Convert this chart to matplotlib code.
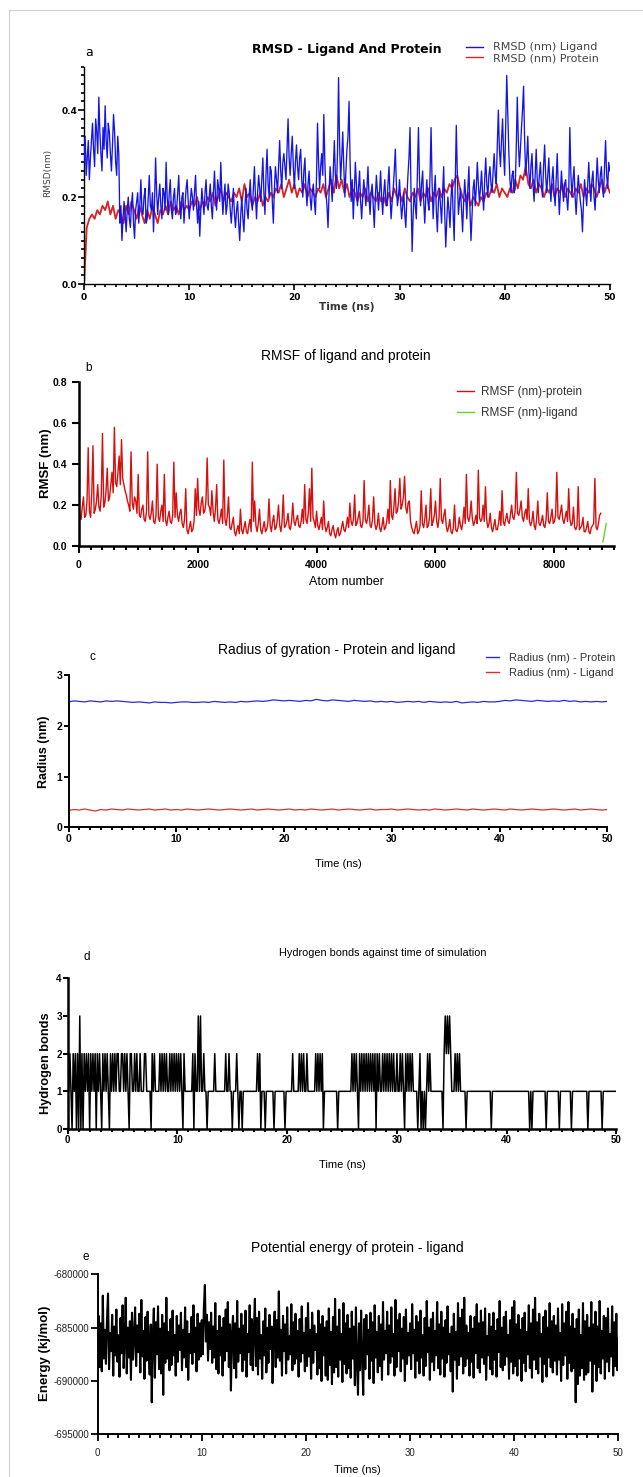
import numpy as np
import matplotlib
matplotlib.use("Agg")
import matplotlib.pyplot as plt
from matplotlib.lines import Line2D
from matplotlib.ticker import MultipleLocator, FixedLocator, FuncFormatter

plt.rcParams['axes.unicode_minus'] = False

# ---------------- data ----------------
# (a) RMSD, ligand sampled every 0.1 ns, protein every 0.25 ns
rmsd_ligand = [
    0.28, 0.34, 0.25, 0.29, 0.33, 0.24, 0.29, 0.33, 0.37, 0.31, 0.27, 0.38, 0.35, 0.30, 0.43, 0.35, 0.30, 0.26, 0.36, 0.31,
    0.41, 0.33, 0.29, 0.37, 0.35, 0.30, 0.26, 0.32, 0.39, 0.35, 0.28, 0.25, 0.34, 0.30, 0.14, 0.18, 0.10, 0.15, 0.19, 0.16,
    0.12, 0.17, 0.20, 0.15, 0.13, 0.18, 0.21, 0.14, 0.105, 0.17, 0.19, 0.21, 0.14, 0.18, 0.24, 0.17, 0.16, 0.20, 0.22, 0.14,
    0.15, 0.20, 0.25, 0.18, 0.17, 0.21, 0.12, 0.19, 0.29, 0.21, 0.16, 0.20, 0.23, 0.18, 0.15, 0.22, 0.21, 0.17, 0.28, 0.20,
    0.16, 0.21, 0.24, 0.17, 0.15, 0.20, 0.22, 0.16, 0.17, 0.21, 0.25, 0.18, 0.15, 0.20, 0.21, 0.14, 0.18, 0.22, 0.24, 0.19,
    0.15, 0.19, 0.22, 0.20, 0.17, 0.21, 0.25, 0.18, 0.14, 0.19, 0.11, 0.17, 0.22, 0.19, 0.16, 0.21, 0.24, 0.18, 0.17, 0.20,
    0.23, 0.18, 0.15, 0.21, 0.26, 0.20, 0.17, 0.24, 0.22, 0.19, 0.28, 0.21, 0.16, 0.20, 0.23, 0.16, 0.18, 0.23, 0.21, 0.17,
    0.14, 0.18, 0.22, 0.16, 0.13, 0.17, 0.19, 0.14, 0.10, 0.16, 0.20, 0.15, 0.12, 0.18, 0.22, 0.17, 0.15, 0.20, 0.24, 0.19,
    0.17, 0.22, 0.27, 0.20, 0.15, 0.21, 0.25, 0.22, 0.19, 0.24, 0.29, 0.21, 0.16, 0.25, 0.31, 0.23, 0.20, 0.27, 0.26, 0.19,
    0.14, 0.22, 0.27, 0.24, 0.21, 0.27, 0.33, 0.26, 0.22, 0.28, 0.30, 0.27, 0.24, 0.31, 0.38, 0.29, 0.25, 0.30, 0.34, 0.27,
    0.22, 0.28, 0.32, 0.27, 0.24, 0.29, 0.31, 0.24, 0.20, 0.26, 0.29, 0.22, 0.18, 0.23, 0.26, 0.20, 0.17, 0.21, 0.23, 0.19,
    0.16, 0.24, 0.37, 0.28, 0.22, 0.27, 0.30, 0.25, 0.39, 0.28, 0.21, 0.18, 0.13, 0.21, 0.27, 0.23, 0.19, 0.26, 0.33, 0.25,
    0.22, 0.30, 0.475, 0.32, 0.24, 0.29, 0.35, 0.27, 0.20, 0.26, 0.31, 0.34, 0.42, 0.28, 0.19, 0.24, 0.15, 0.21, 0.28, 0.23,
    0.18, 0.22, 0.26, 0.19, 0.15, 0.20, 0.24, 0.21, 0.18, 0.22, 0.27, 0.20, 0.16, 0.21, 0.23, 0.18, 0.13, 0.20, 0.25, 0.21,
    0.17, 0.21, 0.26, 0.20, 0.16, 0.21, 0.24, 0.19, 0.18, 0.23, 0.27, 0.20, 0.15, 0.19, 0.22, 0.26, 0.31, 0.23, 0.18, 0.20,
    0.24, 0.19, 0.15, 0.18, 0.21, 0.16, 0.13, 0.20, 0.25, 0.29, 0.36, 0.20, 0.075, 0.16, 0.22, 0.18, 0.15, 0.25, 0.36, 0.24,
    0.18, 0.23, 0.26, 0.19, 0.14, 0.20, 0.24, 0.19, 0.17, 0.25, 0.36, 0.23, 0.15, 0.21, 0.25, 0.17, 0.12, 0.19, 0.22, 0.18,
    0.14, 0.21, 0.27, 0.16, 0.085, 0.15, 0.20, 0.17, 0.13, 0.20, 0.24, 0.16, 0.10, 0.23, 0.365, 0.25, 0.16, 0.19, 0.22, 0.17,
    0.12, 0.19, 0.24, 0.20, 0.15, 0.22, 0.27, 0.17, 0.10, 0.16, 0.22, 0.24, 0.18, 0.22, 0.28, 0.23, 0.19, 0.22, 0.26, 0.21,
    0.17, 0.24, 0.29, 0.23, 0.20, 0.25, 0.27, 0.23, 0.21, 0.26, 0.30, 0.25, 0.23, 0.32, 0.40, 0.31, 0.27, 0.33, 0.38, 0.30,
    0.25, 0.36, 0.48, 0.39, 0.30, 0.24, 0.21, 0.25, 0.26, 0.21, 0.22, 0.31, 0.43, 0.33, 0.27, 0.31, 0.36, 0.40, 0.455, 0.33,
    0.25, 0.29, 0.34, 0.26, 0.22, 0.27, 0.30, 0.23, 0.19, 0.25, 0.31, 0.24, 0.21, 0.25, 0.28, 0.23, 0.20, 0.27, 0.32, 0.25,
    0.21, 0.25, 0.29, 0.23, 0.19, 0.24, 0.27, 0.21, 0.18, 0.24, 0.30, 0.22, 0.16, 0.21, 0.26, 0.22, 0.19, 0.23, 0.24, 0.20,
    0.17, 0.22, 0.36, 0.25, 0.20, 0.24, 0.27, 0.20, 0.16, 0.21, 0.25, 0.22, 0.19, 0.17, 0.12, 0.19, 0.24, 0.21, 0.18, 0.23,
    0.28, 0.22, 0.19, 0.24, 0.26, 0.20, 0.17, 0.23, 0.29, 0.24, 0.21, 0.25, 0.27, 0.22, 0.20, 0.27, 0.33, 0.25, 0.22, 0.28,
    0.26]

rmsd_protein = [
    0.00, 0.13, 0.15, 0.16, 0.15, 0.17, 0.16, 0.18,
    0.17, 0.19, 0.16, 0.18, 0.15, 0.17, 0.16, 0.14,
    0.18, 0.16, 0.19, 0.17, 0.15, 0.18, 0.16, 0.14,
    0.17, 0.15, 0.18, 0.16, 0.14, 0.17, 0.16, 0.18,
    0.16, 0.19, 0.17, 0.18, 0.16, 0.19, 0.17, 0.18,
    0.17, 0.19, 0.18, 0.20, 0.17, 0.19, 0.18, 0.20,
    0.19, 0.21, 0.18, 0.20, 0.22, 0.19, 0.21, 0.20,
    0.19, 0.21, 0.20, 0.22, 0.19, 0.23, 0.20, 0.21,
    0.18, 0.20, 0.19, 0.21, 0.18, 0.20, 0.19, 0.21,
    0.20, 0.22, 0.21, 0.23, 0.20, 0.22, 0.24, 0.21,
    0.23, 0.20, 0.22, 0.21, 0.23, 0.20, 0.22, 0.21,
    0.20, 0.22, 0.21, 0.23, 0.20, 0.22, 0.24, 0.21,
    0.25, 0.22, 0.24, 0.21, 0.23, 0.20, 0.22, 0.21,
    0.19, 0.21, 0.20, 0.22, 0.19, 0.21, 0.20, 0.19,
    0.21, 0.19, 0.20, 0.18, 0.21, 0.19, 0.22, 0.20,
    0.21, 0.19, 0.22, 0.20, 0.19, 0.21, 0.20, 0.22,
    0.19, 0.21, 0.20, 0.22, 0.19, 0.21, 0.20, 0.22,
    0.20, 0.22, 0.21, 0.23, 0.22, 0.24, 0.25, 0.22,
    0.20, 0.19, 0.21, 0.18, 0.20, 0.19, 0.18, 0.20,
    0.19, 0.21, 0.20, 0.22, 0.21, 0.23, 0.20, 0.22,
    0.21, 0.20, 0.22, 0.21, 0.24, 0.22, 0.25, 0.24,
    0.27, 0.23, 0.22, 0.24, 0.21, 0.23, 0.22, 0.20,
    0.22, 0.21, 0.23, 0.20, 0.22, 0.21, 0.23, 0.20,
    0.22, 0.21, 0.20, 0.22, 0.21, 0.23, 0.20, 0.22,
    0.21, 0.23, 0.22, 0.20, 0.22, 0.24, 0.21, 0.23,
    0.21]

# (b) RMSF, protein every 20 atoms starting at atom 0
rmsf_protein = [
    0.21, 0.15, 0.13, 0.19, 0.24, 0.14, 0.15, 0.22, 0.48, 0.17, 0.14, 0.26, 0.49, 0.16, 0.18, 0.22, 0.30, 0.19, 0.17, 0.25,
    0.55, 0.19, 0.21, 0.27, 0.38, 0.22, 0.24, 0.30, 0.36, 0.26, 0.58, 0.31, 0.29, 0.36, 0.44, 0.30, 0.52, 0.33, 0.30, 0.27,
    0.25, 0.22, 0.20, 0.17, 0.46, 0.21, 0.18, 0.24, 0.22, 0.16, 0.35, 0.15, 0.14, 0.18, 0.20, 0.13, 0.12, 0.17, 0.46, 0.15,
    0.13, 0.16, 0.22, 0.12, 0.11, 0.15, 0.40, 0.14, 0.12, 0.17, 0.20, 0.12, 0.35, 0.13, 0.10, 0.14, 0.17, 0.12, 0.11, 0.15,
    0.41, 0.14, 0.26, 0.15, 0.12, 0.16, 0.18, 0.11, 0.09, 0.13, 0.28, 0.08, 0.06, 0.09, 0.12, 0.07, 0.08, 0.12, 0.28, 0.15,
    0.33, 0.18, 0.15, 0.21, 0.24, 0.16, 0.17, 0.22, 0.43, 0.20, 0.19, 0.15, 0.27, 0.17, 0.12, 0.18, 0.30, 0.13, 0.11, 0.14,
    0.18, 0.11, 0.42, 0.13, 0.10, 0.15, 0.24, 0.09, 0.08, 0.11, 0.14, 0.07, 0.05, 0.08, 0.10, 0.06, 0.18, 0.08, 0.06, 0.09,
    0.12, 0.07, 0.06, 0.10, 0.13, 0.07, 0.41, 0.12, 0.22, 0.10, 0.07, 0.11, 0.18, 0.08, 0.06, 0.09, 0.12, 0.07, 0.08, 0.11,
    0.23, 0.10, 0.07, 0.12, 0.15, 0.08, 0.09, 0.13, 0.20, 0.10, 0.07, 0.12, 0.25, 0.09, 0.10, 0.12, 0.16, 0.09, 0.08, 0.12,
    0.21, 0.12, 0.10, 0.13, 0.15, 0.10, 0.09, 0.12, 0.18, 0.11, 0.30, 0.13, 0.11, 0.16, 0.28, 0.12, 0.38, 0.14, 0.12, 0.09,
    0.17, 0.10, 0.08, 0.11, 0.14, 0.08, 0.22, 0.10, 0.07, 0.09, 0.12, 0.06, 0.05, 0.08, 0.10, 0.06, 0.04, 0.07, 0.09, 0.05,
    0.06, 0.09, 0.12, 0.08, 0.07, 0.10, 0.14, 0.09, 0.21, 0.12, 0.10, 0.13, 0.25, 0.10, 0.11, 0.14, 0.17, 0.10, 0.09, 0.12,
    0.32, 0.13, 0.11, 0.14, 0.20, 0.10, 0.09, 0.13, 0.24, 0.11, 0.08, 0.10, 0.16, 0.09, 0.07, 0.10, 0.14, 0.08, 0.09, 0.12,
    0.18, 0.11, 0.32, 0.15, 0.13, 0.19, 0.28, 0.16, 0.17, 0.22, 0.33, 0.18, 0.20, 0.24, 0.34, 0.19, 0.16, 0.21, 0.22, 0.12,
    0.09, 0.07, 0.06, 0.09, 0.12, 0.06, 0.07, 0.10, 0.27, 0.11, 0.09, 0.13, 0.20, 0.09, 0.10, 0.14, 0.28, 0.10, 0.12, 0.15,
    0.22, 0.12, 0.09, 0.14, 0.33, 0.13, 0.11, 0.15, 0.18, 0.10, 0.07, 0.09, 0.13, 0.07, 0.06, 0.09, 0.20, 0.08, 0.07, 0.09,
    0.14, 0.10, 0.08, 0.12, 0.19, 0.11, 0.35, 0.14, 0.12, 0.15, 0.22, 0.13, 0.10, 0.12, 0.15, 0.11, 0.37, 0.14, 0.12, 0.13,
    0.20, 0.12, 0.29, 0.13, 0.09, 0.11, 0.16, 0.09, 0.07, 0.10, 0.13, 0.08, 0.08, 0.11, 0.17, 0.10, 0.27, 0.12, 0.10, 0.13,
    0.16, 0.12, 0.11, 0.15, 0.20, 0.14, 0.13, 0.17, 0.36, 0.16, 0.15, 0.18, 0.22, 0.14, 0.12, 0.16, 0.18, 0.13, 0.28, 0.12,
    0.10, 0.12, 0.17, 0.10, 0.08, 0.13, 0.22, 0.11, 0.10, 0.12, 0.15, 0.10, 0.09, 0.13, 0.26, 0.12, 0.11, 0.14, 0.18, 0.11,
    0.12, 0.15, 0.36, 0.14, 0.13, 0.16, 0.20, 0.13, 0.11, 0.14, 0.17, 0.12, 0.28, 0.13, 0.10, 0.11, 0.19, 0.09, 0.08, 0.10,
    0.29, 0.08, 0.09, 0.10, 0.14, 0.07, 0.07, 0.09, 0.12, 0.07, 0.06, 0.09, 0.10, 0.11, 0.33, 0.09, 0.08, 0.11, 0.15, 0.16]
rmsf_atom_step = 20
rmsf_ligand_atoms = [8815, 8830, 8845, 8860, 8870]
rmsf_ligand = [0.02, 0.04, 0.07, 0.09, 0.11]

# (c) Radius of gyration, every 0.5 ns
rg_protein = [
    2.47, 2.49, 2.48, 2.47, 2.49, 2.48, 2.47, 2.49, 2.48, 2.49,
    2.48, 2.47, 2.46, 2.47, 2.46, 2.45, 2.47, 2.46, 2.46, 2.45,
    2.46, 2.47, 2.47, 2.46, 2.46, 2.47, 2.46, 2.48, 2.47, 2.46,
    2.47, 2.46, 2.48, 2.47, 2.48, 2.49, 2.48, 2.49, 2.51, 2.50,
    2.49, 2.50, 2.49, 2.48, 2.50, 2.49, 2.52, 2.50, 2.49, 2.51,
    2.50, 2.49, 2.48, 2.50, 2.49, 2.48, 2.49, 2.47, 2.48, 2.47,
    2.48, 2.46, 2.47, 2.48, 2.47, 2.48, 2.46, 2.48, 2.47, 2.46,
    2.47, 2.46, 2.48, 2.45, 2.46, 2.47, 2.46, 2.48, 2.47, 2.47,
    2.48, 2.50, 2.49, 2.51, 2.50, 2.49, 2.48, 2.50, 2.49, 2.48,
    2.49, 2.48, 2.50, 2.48, 2.49, 2.47, 2.48, 2.47, 2.48, 2.47,
    2.48]
rg_ligand = [
    0.33, 0.35, 0.34, 0.36, 0.34, 0.32, 0.35, 0.34, 0.36, 0.35,
    0.34, 0.36, 0.35, 0.34, 0.35, 0.36, 0.34, 0.35, 0.36, 0.34,
    0.35, 0.34, 0.36, 0.35, 0.34, 0.35, 0.36, 0.35, 0.34, 0.35,
    0.36, 0.35, 0.34, 0.35, 0.36, 0.34, 0.35, 0.36, 0.35, 0.34,
    0.35, 0.36, 0.34, 0.35, 0.34, 0.36, 0.35, 0.34, 0.35, 0.36,
    0.34, 0.35, 0.36, 0.35, 0.34, 0.35, 0.36, 0.34, 0.35, 0.35,
    0.36, 0.34, 0.35, 0.36, 0.35, 0.34, 0.35, 0.34, 0.36, 0.35,
    0.34, 0.35, 0.36, 0.35, 0.34, 0.36, 0.35, 0.34, 0.35, 0.36,
    0.35, 0.34, 0.36, 0.35, 0.34, 0.35, 0.36, 0.35, 0.34, 0.35,
    0.36, 0.35, 0.34, 0.35, 0.36, 0.34, 0.35, 0.36, 0.35, 0.34,
    0.35]

# (d) Hydrogen bonds, every 0.1 ns
hbonds = [
    2, 1, 2, 1, 0, 2, 1, 2, 0, 2, 0, 3, 0, 2, 0, 2, 1, 2, 1, 2,
    0, 2, 1, 2, 1, 2, 0, 2, 1, 2, 1, 0, 2, 1, 2, 1, 2, 1, 0, 2,
    1, 2, 1, 2, 1, 2, 2, 1, 1, 2, 2, 1, 2, 1, 2, 1, 0, 2, 2, 1,
    1, 2, 1, 2, 1, 1, 2, 1, 1, 1, 2, 2, 1, 1, 1, 1, 0, 2, 1, 2,
    1, 1, 1, 1, 2, 1, 2, 1, 2, 1, 2, 1, 1, 2, 1, 2, 1, 2, 1, 2,
    1, 2, 1, 2, 1, 0, 2, 1, 1, 1, 1, 1, 1, 1, 2, 0, 2, 1, 1, 3,
    1, 3, 1, 1, 2, 1, 1, 0, 1, 1, 1, 1, 1, 1, 2, 1, 1, 1, 1, 1,
    1, 1, 1, 1, 2, 1, 1, 2, 1, 1, 0, 1, 1, 1, 2, 1, 0, 1, 1, 0,
    1, 1, 1, 1, 1, 1, 1, 1, 1, 1, 1, 1, 1, 2, 1, 2, 0, 1, 1, 1,
    0, 1, 1, 1, 1, 1, 1, 1, 0, 1, 1, 1, 1, 1, 1, 1, 1, 1, 0, 1,
    1, 1, 1, 1, 1, 2, 1, 1, 1, 1, 1, 2, 1, 2, 1, 2, 1, 1, 2, 1,
    1, 1, 1, 1, 1, 1, 2, 1, 2, 1, 2, 1, 2, 0, 1, 1, 1, 1, 1, 1,
    1, 1, 1, 1, 1, 1, 0, 1, 1, 1, 1, 1, 1, 1, 1, 1, 1, 1, 1, 2,
    1, 2, 1, 2, 1, 0, 2, 1, 2, 1, 2, 1, 2, 1, 2, 1, 2, 1, 2, 1,
    2, 0, 2, 1, 2, 1, 1, 2, 1, 2, 1, 2, 1, 2, 1, 2, 1, 2, 1, 1,
    2, 1, 1, 2, 1, 2, 1, 0, 2, 1, 2, 1, 2, 1, 2, 1, 1, 1, 1, 0,
    1, 2, 0, 1, 0, 1, 0, 1, 2, 1, 2, 1, 1, 1, 1, 1, 1, 1, 1, 1,
    1, 1, 0, 2, 3, 2, 3, 2, 3, 2, 1, 1, 1, 2, 1, 2, 1, 2, 1, 1,
    1, 1, 1, 0, 1, 1, 1, 1, 1, 1, 1, 1, 1, 1, 1, 1, 1, 1, 1, 1,
    1, 1, 1, 1, 1, 1, 0, 1, 1, 1, 1, 1, 1, 1, 1, 1, 1, 1, 1, 1,
    1, 1, 1, 1, 1, 1, 1, 1, 1, 1, 1, 1, 1, 1, 1, 1, 1, 1, 1, 1,
    1, 0, 1, 0, 1, 1, 1, 1, 1, 1, 1, 1, 1, 1, 1, 1, 0, 1, 1, 1,
    1, 1, 1, 1, 1, 1, 1, 1, 0, 1, 1, 1, 1, 1, 1, 1, 1, 1, 1, 0,
    1, 1, 1, 1, 1, 1, 1, 1, 1, 1, 1, 1, 1, 1, 0, 1, 1, 1, 1, 1,
    1, 1, 1, 1, 1, 1, 1, 0, 1, 1, 1, 1, 1, 1, 1, 1, 1, 1, 1, 1,
    1]

# (e) Potential energy (kJ/mol), every 0.1 ns
energy = [
    -686200, -683900, -688700, -684600, -689100, -682000, -687900, -685200, -688400, -684300,
    -681800, -688900, -685500, -687200, -683800, -689500, -684900, -687600, -683300, -688200,
    -685700, -689600, -684100, -687400, -682900, -688800, -686100, -682200, -689300, -685000,
    -687800, -684400, -689900, -683600, -688000, -685900, -683100, -688600, -684800, -687300,
    -683700, -689200, -682400, -687700, -685300, -689800, -684000, -688100, -683500, -687000,
    -689400, -684700, -692000, -685800, -683200, -689700, -684500, -687500, -683000, -688900,
    -685100, -689300, -683800, -691300, -684600, -688300, -682200, -687900, -685400, -689000,
    -684200, -688500, -683400, -687600, -685700, -689500, -683900, -688200, -684800, -687100,
    -683600, -689000, -685200, -687800, -683100, -688700, -684400, -689900, -685600, -687400,
    -684000, -688400, -682900, -687300, -685000, -689100, -683700, -688000, -684600, -687700,
    -684300, -687500, -683200, -681000, -686300, -683800, -688100, -684500, -687000, -683600,
    -688300, -684900, -687800, -682700, -688900, -685300, -689300, -683900, -687600, -685000,
    -689500, -684100, -688100, -683300, -687200, -682600, -688700, -684700, -690900, -685500,
    -683900, -688800, -684600, -689700, -682500, -688200, -685100, -687400, -683700, -689100,
    -684800, -688000, -683400, -689600, -685600, -687300, -682900, -688500, -684200, -689000,
    -685300, -682300, -688600, -684100, -689400, -683500, -687900, -685700, -689800, -684400,
    -687600, -683200, -689200, -685000, -688300, -683800, -687000, -684900, -690200, -685400,
    -683500, -688700, -684300, -687800, -681600, -688100, -685200, -689500, -683900, -687200,
    -684700, -689300, -683100, -688000, -685800, -687500, -682800, -689000, -684500, -688400,
    -683700, -687900, -685300, -689600, -684200, -688200, -683000, -687400, -685500, -689100,
    -684100, -688600, -682700, -687700, -685200, -689800, -683600, -688300, -684800, -687100,
    -685600, -689400, -683400, -688800, -684700, -690000, -683900, -687600, -685000, -689500,
    -684400, -689900, -683200, -688500, -685400, -690300, -684000, -689200, -682300, -688700,
    -684900, -689600, -683300, -688000, -685600, -690100, -682700, -688400, -684600, -689300,
    -683800, -688800, -685100, -689700, -683500, -687900, -684900, -690400, -683100, -688200,
    -691300, -684600, -689000, -683400, -687700, -691300, -684200, -688900, -683800, -687500,
    -685200, -689800, -683600, -688100, -684500, -690200, -682900, -687800, -685400, -689200,
    -683900, -688600, -684700, -689900, -682600, -688000, -685300, -687400, -683500, -689400,
    -684800, -688300, -683100, -687700, -685600, -689500, -682400, -688700, -684300, -687200,
    -683700, -689100, -685100, -687900, -684000, -690000, -683300, -688400, -685500, -687600,
    -684600, -688900, -682800, -687400, -685200, -689700, -683900, -688100, -684500, -689300,
    -683400, -687800, -685700, -689500, -684100, -688600, -682500, -687300, -685000, -689900,
    -684200, -688200, -683600, -689000, -685300, -687600, -682600, -688800, -684700, -689400,
    -683500, -687900, -685000, -689600, -684300, -688300, -683000, -687500, -685600, -689100,
    -684900, -691000, -683700, -688000, -685400, -689800, -682700, -688500, -684100, -687700,
    -683300, -689300, -682200, -688600, -684800, -687900, -685500, -689500, -683900, -688200,
    -685100, -689700, -684000, -687400, -682800, -688800, -684600, -689200, -683400, -687800,
    -684500, -688400, -683200, -689900, -685800, -687600, -683700, -688900, -684900, -689400,
    -683600, -688000, -685300, -689600, -684200, -687300, -682500, -688700, -685000, -689000,
    -684000, -688500, -683500, -687700, -685700, -689800, -684300, -688200, -683100, -689300,
    -682500, -688600, -684700, -689500, -683800, -687900, -685200, -690000, -684100, -688300,
    -683600, -689100, -685400, -687500, -682900, -688800, -684600, -689700, -683300, -688000,
    -682200, -688900, -684500, -689300, -683700, -687700, -685600, -690100, -684000, -688400,
    -683400, -689600, -685000, -687800, -682700, -688700, -684400, -689200, -683900, -688100,
    -684800, -689400, -683200, -688000, -685500, -690000, -682800, -688500, -684600, -687600,
    -683500, -689800, -682600, -688300, -684900, -689100, -683700, -688800, -685100, -692000,
    -684200, -690300, -683300, -689500, -685700, -688800, -682700, -689900, -684400, -689400,
    -683800, -689200, -685000, -688100, -682600, -691000, -684700, -688400, -683500, -690000,
    -684900, -688700, -682500, -689300, -685300, -687900, -683900, -689800, -684100, -688200,
    -683200, -689100, -685600, -687700, -683000, -689500, -684500, -688600, -683700, -689000,
    -686000]

time_ticks = [0, 10, 20, 30, 40, 50]
atom_ticks = [0, 2000, 4000, 6000, 8000]
rmsd_ticks = [0.0, 0.2, 0.4]
rmsf_ticks = [0.0, 0.2, 0.4, 0.6, 0.8]
rg_ticks = [0, 1, 2, 3]
hb_ticks = [0, 1, 2, 3, 4]
energy_ticks = [-695000, -690000, -685000, -680000]

# ---------------- figure ----------------
W, H = 643, 1477
fig = plt.figure(figsize=(W / 100, H / 100), dpi=100)
ARIAL = ['Liberation Sans', 'DejaVu Sans']
WIDE = ['DejaVu Sans']


def add_axes(l, r, t, b):
    return fig.add_axes([l / W, 1 - b / H, (r - l) / W, (b - t) / H])


def ftext(x, y, s, **kw):
    kw.setdefault('ha', 'center')
    kw.setdefault('va', 'center')
    fig.text(x / W, 1 - y / H, s, **kw)


def style(ax, spine_w, maj, mino, tw, xpad, ypad, fam, size, weight, color='black'):
    for s in ['top', 'right']:
        ax.spines[s].set_visible(False)
    for s in ['left', 'bottom']:
        ax.spines[s].set_linewidth(spine_w)
    ax.tick_params(which='major', direction='out', length=maj, width=tw)
    ax.tick_params(which='minor', direction='out', length=mino, width=tw)
    ax.tick_params(axis='x', which='major', pad=xpad)
    ax.tick_params(axis='y', which='major', pad=ypad)
    plt.setp(ax.get_xticklabels() + ax.get_yticklabels(), family=fam, fontsize=size,
             fontweight=weight, color=color)


def legend_at(ax, handles, labels, x, y_top, size, fam, color, hl, tp, ls):
    leg = ax.legend(handles, labels, loc='upper left', bbox_to_anchor=(x / W, 1 - y_top / H),
                    bbox_transform=fig.transFigure, frameon=False, borderpad=0,
                    borderaxespad=0, handlelength=hl, handletextpad=tp, labelspacing=ls,
                    prop={'family': fam, 'size': size})
    for t in leg.get_texts():
        t.set_color(color)
    for ln in leg.get_lines():
        ln.set_linewidth(1.0)
    return leg


# page frame lines
fig.add_artist(Line2D([9 / W, 9 / W], [0, 1 - 10 / H], transform=fig.transFigure,
                      color='#cfcfcf', lw=0.8))
fig.add_artist(Line2D([9 / W, 1], [1 - 10 / H, 1 - 10 / H], transform=fig.transFigure,
                      color='#cfcfcf', lw=0.8))

# ---- (a) RMSD ----
ax = add_axes(84.1, 609.8, 66.7, 284)
t_lig = np.linspace(0, 50, len(rmsd_ligand))
t_pro = np.linspace(0, 50, len(rmsd_protein))
l_pro, = ax.plot(t_pro, rmsd_protein, color='#d42424', lw=1.3, zorder=2)
l_lig, = ax.plot(t_lig, rmsd_ligand, color='#1414e8', lw=0.95, zorder=3)
ax.set_xlim(0, 50)
ax.set_ylim(0, 0.5)
ax.xaxis.set_major_locator(FixedLocator(time_ticks))
ax.xaxis.set_minor_locator(MultipleLocator(1))
ax.yaxis.set_major_locator(FixedLocator(rmsd_ticks))
ax.yaxis.set_minor_locator(MultipleLocator(0.02))
ax.yaxis.set_major_formatter(FuncFormatter(lambda v, p: f"{v:.1f}"))
style(ax, 1.0, 4, 2.5, 1.2, 2.5, 1.0, WIDE, 6.5, 'bold')
legend_at(ax, [l_lig, l_pro], ['RMSD (nm) Ligand', 'RMSD (nm) Protein'],
          466, 42.5, 8.0, WIDE, '#444444', 1.5, 0.9, 0.05)
ftext(346.5, 49, 'RMSD - Ligand And Protein', family=WIDE, fontsize=9, fontweight='bold')
ftext(89, 53, 'a', family=WIDE, fontsize=9)
ftext(347, 307, 'Time (ns)', family=WIDE, fontsize=7.5, fontweight='bold', color='#333333')
ftext(47.5, 173, 'RMSD(nm)', family=WIDE, fontsize=6.5, rotation=90, color='#444444')

# ---- (b) RMSF ----
ax = add_axes(78.7, 613.9, 382.3, 546)
atoms = np.arange(len(rmsf_protein)) * rmsf_atom_step
l1, = ax.plot(atoms, rmsf_protein, color='#d60f0f', lw=1.0)
l2, = ax.plot(rmsf_ligand_atoms, rmsf_ligand, color='#5fd42a', lw=1.0)
ax.set_xlim(0, 9000)
ax.set_ylim(0, 0.8)
ax.xaxis.set_major_locator(FixedLocator(atom_ticks))
ax.xaxis.set_minor_locator(MultipleLocator(200))
ax.yaxis.set_major_locator(FixedLocator(rmsf_ticks))
ax.yaxis.set_major_formatter(FuncFormatter(lambda v, p: f"{v:.1f}"))
style(ax, 1.8, 5, 3, 1.5, 5, 3, ARIAL, 7.5, 'bold')
legend_at(ax, [l1, l2], ['RMSF (nm)-protein', 'RMSF (nm)-ligand'],
          457, 386.5, 8.5, ARIAL, '#333333', 1.44, 0.6, 0.75)
ftext(346, 355.7, 'RMSF of ligand and protein', family=ARIAL, fontsize=10)
ftext(89, 368, 'b', family=ARIAL, fontsize=8.5)
ftext(346.5, 581.7, 'Atom number', family=ARIAL, fontsize=9)
ftext(45.5, 463, 'RMSF (nm)', family=ARIAL, fontsize=9.5, fontweight='bold', rotation=90)

# ---- (c) Radius of gyration ----
ax = add_axes(68.5, 607.3, 675, 827.3)
t_rg = np.linspace(0, 50, len(rg_protein))
l1, = ax.plot(t_rg, rg_protein, color='#2b2bd6', lw=0.9)
l2, = ax.plot(t_rg, rg_ligand, color='#d63030', lw=0.9)
ax.set_xlim(0, 50)
ax.set_ylim(0, 3)
ax.xaxis.set_major_locator(FixedLocator(time_ticks))
ax.xaxis.set_minor_locator(MultipleLocator(1))
ax.yaxis.set_major_locator(FixedLocator(rg_ticks))
style(ax, 1.4, 3.5, 2.5, 1.4, 1.0, 0.8, ARIAL, 7.5, 'bold')
legend_at(ax, [l1, l2], ['Radius (nm) - Protein', 'Radius (nm) - Ligand'],
          486, 652.6, 8, ARIAL, '#333333', 1.17, 0.86, 0.47)
ftext(336.7, 650, 'Radius of gyration - Protein and ligand', family=ARIAL, fontsize=10)
ftext(92, 657, 'c', family=ARIAL, fontsize=8.5)
ftext(338, 864, 'Time (ns)', family=ARIAL, fontsize=8)
ftext(44.5, 752, 'Radius (nm)', family=ARIAL, fontsize=9, fontweight='bold', rotation=90)

# ---- (d) Hydrogen bonds ----
ax = add_axes(67.7, 616.4, 978.3, 1129)
t_hb = np.linspace(0, 50, len(hbonds))
ax.plot(t_hb, hbonds, color='black', lw=1.1)
ax.set_xlim(0, 50)
ax.set_ylim(0, 4)
ax.xaxis.set_major_locator(FixedLocator(time_ticks))
ax.xaxis.set_minor_locator(MultipleLocator(1))
ax.yaxis.set_major_locator(FixedLocator(hb_ticks))
style(ax, 1.8, 3.5, 2.5, 1.5, 1.0, 0.8, ARIAL, 7, 'bold')
ftext(382.4, 952.7, 'Hydrogen bonds against time of simulation', family=ARIAL, fontsize=7.8)
ftext(87, 957, 'd', family=ARIAL, fontsize=8.5)
ftext(342, 1165, 'Time (ns)', family=ARIAL, fontsize=8)
ftext(46, 1063, 'Hydrogen bonds', family=ARIAL, fontsize=9.2, fontweight='bold', rotation=90)

# ---- (e) Potential energy ----
ax = add_axes(97.6, 618.4, 1274.3, 1434.3)
t_en = np.linspace(0, 50, len(energy))
ax.plot(t_en, energy, color='black', lw=1.5)
ax.set_xlim(0, 50)
ax.set_ylim(-695000, -680000)
ax.xaxis.set_major_locator(FixedLocator(time_ticks))
ax.xaxis.set_minor_locator(MultipleLocator(1))
ax.yaxis.set_major_locator(FixedLocator(energy_ticks))
ax.yaxis.set_major_formatter(FuncFormatter(lambda v, p: f"{int(round(v))}"))
style(ax, 1.4, 5, 3, 1.3, 5, 0.8, ARIAL, 7, 'normal', '#222222')
ftext(357.6, 1248, 'Potential energy of protein - ligand', family=ARIAL, fontsize=10)
ftext(85.3, 1257, 'e', family=ARIAL, fontsize=8.5)
ftext(357, 1470, 'Time (ns)', family=ARIAL, fontsize=8)
ftext(45, 1353, 'Energy (kj/mol)', family=ARIAL, fontsize=9.5, fontweight='bold', rotation=90)

fig.savefig('out.png', dpi=100)
